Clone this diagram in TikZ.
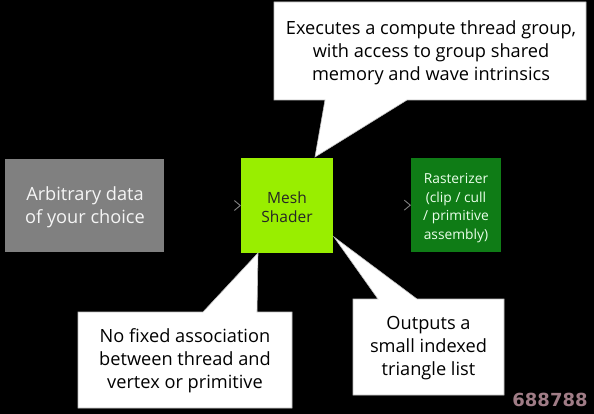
\documentclass[tikz,border=0pt]{standalone}
\usepackage{fontspec}
\setmainfont{Open Sans}
\newfontfamily\wmfont{DejaVu Sans}
\usetikzlibrary{arrows.meta}
\definecolor{datagray}{HTML}{808080}
\definecolor{meshlime}{HTML}{99EE00}
\definecolor{rastgreen}{HTML}{0F7C16}
\definecolor{wmcol}{HTML}{A07C86}
\tikzset{
  box/.style={inner sep=0pt, outer sep=0pt},
  bigtxt/.style={font=\fontsize{18.2}{23}\selectfont, align=center, inner sep=0pt},
  smalltxt/.style={font=\fontsize{13.8}{18.8}\selectfont, align=center, inner sep=0pt},
  meshtxtstyle/.style={font=\fontsize{15.5}{18.5}\selectfont, align=center, inner sep=0pt},
  callout/.style={fill=white, draw=gray!50, line width=0.6pt, line join=miter},
  flowarrow/.style={draw=black, line width=0.8pt, -{Straight Barb[length=6pt,width=10pt,line width=0.9pt,color=gray]}},
}
\begin{document}
\begin{tikzpicture}[x=1pt,y=-1pt]
\useasboundingbox[fill=black] (0,0) rectangle (594,414);
% boxes
\fill[datagray] (5,159) rectangle (164,252);
\node[box, minimum width=159pt, minimum height=93pt] (data) at (84.5,205.5) {};
\node[bigtxt, text=white!92!gray] (datatxt) at (85,207) {Arbitrary data\\of your choice};
\fill[meshlime] (241,158) rectangle (333,253);
\node[box, minimum width=92pt, minimum height=95pt] (mesh) at (287,205.5) {};
\node[meshtxtstyle, text=black!85] (meshtxt) at (287,207) {Mesh\\Shader};
\fill[rastgreen] (411,158) rectangle (501,252);
\node[box, minimum width=90pt, minimum height=94pt] (rast) at (456,205) {};
\node[smalltxt, text=white!92!green] (rasttxt) at (456,208) {Rasterizer\\(clip / cull\\/ primitive\\assembly)};
% connectors
\draw[flowarrow] (data) -- (mesh);
\draw[flowarrow] (mesh) -- (rast);
% callouts
\coordinate (tipA) at (315,157);
\coordinate (tipB) at (258,253);
\coordinate (tipC) at (334,237);
\path[callout] (274,2) -- (586,2) -- (586,100) -- (407,100) -- (tipA) -- (325,100) -- (274,100) -- cycle;
\node[bigtxt] (ca) at (431,53) {Executes a compute thread group,\\with access to group shared\\memory and wave intrinsics};
\path[callout] (78,312) -- (203,312) -- (tipB) -- (257,312) -- (292,312) -- (292,408) -- (78,408) -- cycle;
\node[bigtxt] (cb) at (185,361) {No fixed association\\between thread and\\vertex or primitive};
\path[callout] (353,299) -- (378,299) -- (tipC) -- (417,299) -- (504,299) -- (504,395) -- (353,395) -- cycle;
\node[bigtxt] (cc) at (428.5,348) {Outputs a\\small indexed\\triangle list};
% watermark
\node[inner sep=0pt, text=wmcol, font=\wmfont\bfseries\fontsize{18}{18}\selectfont] (wm) at (550,400) {688788};
\end{tikzpicture}
\end{document}
